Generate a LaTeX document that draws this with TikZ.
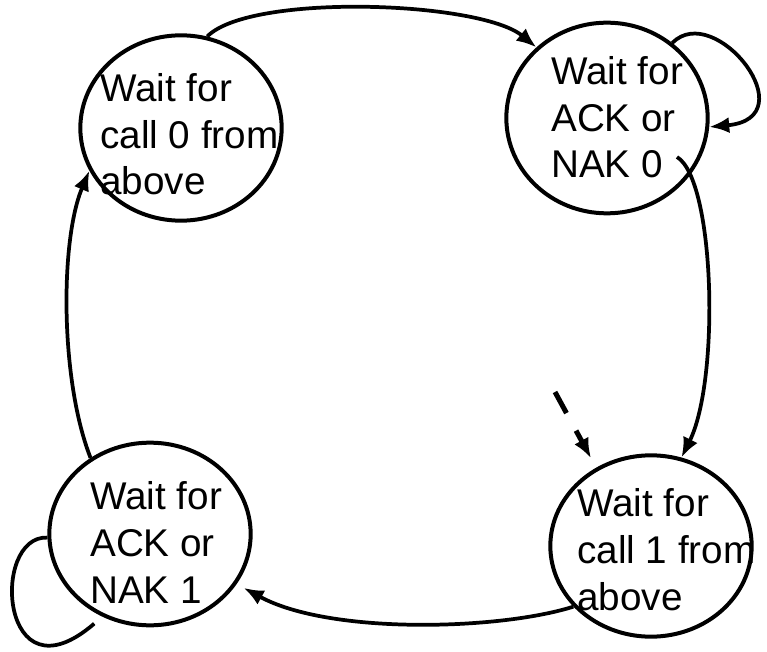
\documentclass[tikz,border=0pt]{standalone}
\usepackage{fontspec}
\setmainfont{Liberation Sans}
\usetikzlibrary{shapes.geometric, arrows.meta}

\begin{document}
\begin{tikzpicture}[x=0.75pt,y=-0.75pt,
  etat/.style={draw, ellipse, line width=3pt, minimum width=151pt, minimum height=139pt, inner sep=0pt},
  texte/.style={anchor=base west, align=left, inner sep=0pt, font=\fontsize{29}{35}\selectfont},
  trans/.style={line width=2.8pt, -{Latex[length=15pt,width=12pt]}}]

\useasboundingbox (0,0) rectangle (767,652);

\node[etat] (e0) at (181,128) {};%les etats
\node[etat, minimum height=143pt] (e1) at (607,118) {};
\node[etat, minimum height=136pt] (e2) at (651,546) {};
\node[etat, minimum height=137pt] (e3) at (150,534) {};

\node[texte] (t0) at (100,195) {Wait for\\call 0 from\\above};%le texte
\node[texte] (t1) at (551,178) {Wait for\\ACK or\\NAK 0};
\node[texte] (t2) at (577,610) {Wait for\\call 1 from\\above};
\node[texte] (t3) at (90,603) {Wait for\\ACK or\\NAK 1};

\coordinate (h0) at (677,157);
\coordinate (d0) at (555,392);

\draw[trans] (e0.74) .. controls (250,-7) and (480,1) .. (e1.135);%les transitions
\draw[trans] (e1.49) .. controls (715,0) and (808,118) .. (e1.-5);
\draw[trans] (h0) .. controls (715,180) and (720,380) .. (e2.71);
\draw[trans, line width=3.75pt, dash pattern=on 18pt off 15pt, shorten >=8pt] (d0) -- (e2.125);
\draw[trans, shorten >=6pt] (e2.218) .. controls (500,630) and (330,635) .. (e3.-30);
\draw[line width=2.8pt, shorten >=8pt] (e3.182) .. controls (-10,535) and (0,705) .. (e3.240);
\draw[trans] (e3.128) .. controls (60,380) and (60,240) .. (e0.205);

\end{tikzpicture}
\end{document}
